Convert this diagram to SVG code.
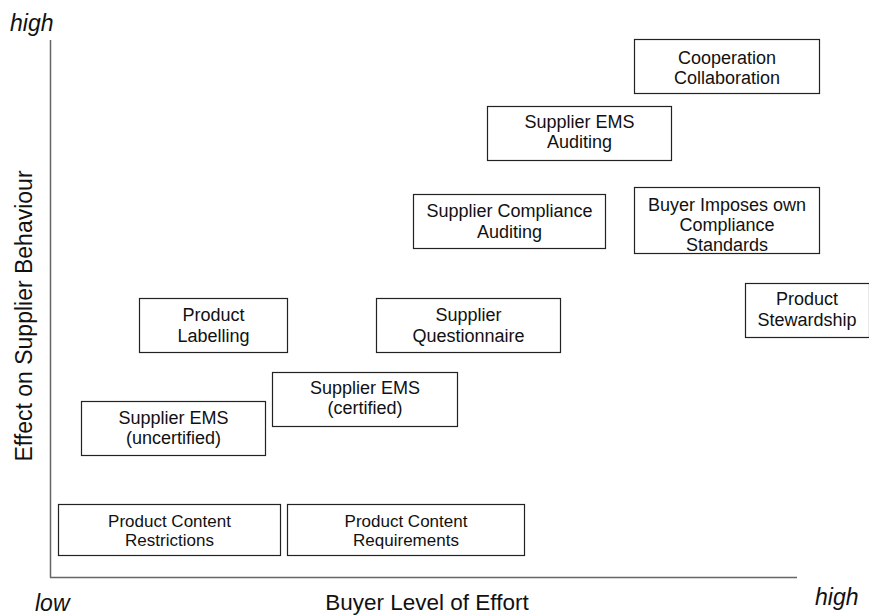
<svg xmlns="http://www.w3.org/2000/svg" width="869" height="616" viewBox="0 0 869 616">
<style>
  .box rect { fill: #fff; stroke: #222; stroke-width: 1.2; }
  .box text { font-family: "Liberation Sans", Arial, sans-serif; font-size: 18px; fill: #111; text-anchor: middle; }
  .small text { font-size: 17px; }
  .axis { stroke: #666; stroke-width: 1.5; fill: none; }
  .lbl { font-family: "Liberation Sans", Arial, sans-serif; font-size: 23px; fill: #111; }
  .it { font-style: italic; }
</style>
<rect width="869" height="616" fill="#fff"/>
<g id="axes">
  <line class="axis" x1="50.5" y1="40" x2="50.5" y2="577.5"/>
  <line class="axis" x1="50" y1="577.5" x2="797" y2="577.5"/>
</g>
<g id="axis-labels">
  <text class="lbl it" x="10" y="31">high</text>
  <text class="lbl it" x="35" y="611">low</text>
  <text class="lbl it" x="815" y="605">high</text>
  <text class="lbl" x="427" y="610" text-anchor="middle" style="font-size:22.5px">Buyer Level of Effort</text>
  <text class="lbl" transform="translate(31.5,316) rotate(-90)" text-anchor="middle">Effect on Supplier Behaviour</text>
</g>
<g id="connectors"></g>
<g id="n-cooperation" class="box">
  <rect x="634.5" y="39.5" width="185" height="54"/>
  <text x="727" y="63.5">Cooperation</text>
  <text x="727" y="83.5">Collaboration</text>
</g>
<g id="n-ems-auditing" class="box">
  <rect x="487.5" y="106.5" width="184" height="54"/>
  <text x="579.5" y="127.5">Supplier EMS</text>
  <text x="579.5" y="147.5">Auditing</text>
</g>
<g id="n-compliance-auditing" class="box">
  <rect x="413.5" y="194.5" width="192" height="54"/>
  <text x="509.5" y="216.5">Supplier Compliance</text>
  <text x="509.5" y="238">Auditing</text>
</g>
<g id="n-buyer-imposes" class="box">
  <rect x="634.5" y="187.5" width="185" height="66"/>
  <text x="727" y="210.5">Buyer Imposes own</text>
  <text x="727" y="231">Compliance</text>
  <text x="727" y="251">Standards</text>
</g>
<g id="n-stewardship" class="box">
  <rect x="745.5" y="283.5" width="124" height="54"/>
  <text x="807" y="305">Product</text>
  <text x="807" y="325.5">Stewardship</text>
</g>
<g id="n-labelling" class="box">
  <rect x="139.5" y="298.5" width="148" height="54"/>
  <text x="213.5" y="320.5">Product</text>
  <text x="213.5" y="341.5">Labelling</text>
</g>
<g id="n-questionnaire" class="box">
  <rect x="376.5" y="298.5" width="184" height="54"/>
  <text x="468.5" y="320.5">Supplier</text>
  <text x="468.5" y="341.5">Questionnaire</text>
</g>
<g id="n-ems-certified" class="box">
  <rect x="272.5" y="372.5" width="185" height="54"/>
  <text x="365" y="393.5">Supplier EMS</text>
  <text x="365" y="413.5">(certified)</text>
</g>
<g id="n-ems-uncertified" class="box">
  <rect x="81.5" y="401.5" width="184" height="54"/>
  <text x="173.5" y="423.5">Supplier EMS</text>
  <text x="173.5" y="443.5">(uncertified)</text>
</g>
<g id="n-content-restrictions" class="box small">
  <rect x="58.5" y="504.5" width="222" height="51"/>
  <text x="169.5" y="526.5">Product Content</text>
  <text x="169.5" y="546">Restrictions</text>
</g>
<g id="n-content-requirements" class="box small">
  <rect x="287.5" y="504.5" width="237" height="51"/>
  <text x="406" y="526.5">Product Content</text>
  <text x="406" y="546">Requirements</text>
</g>
</svg>
